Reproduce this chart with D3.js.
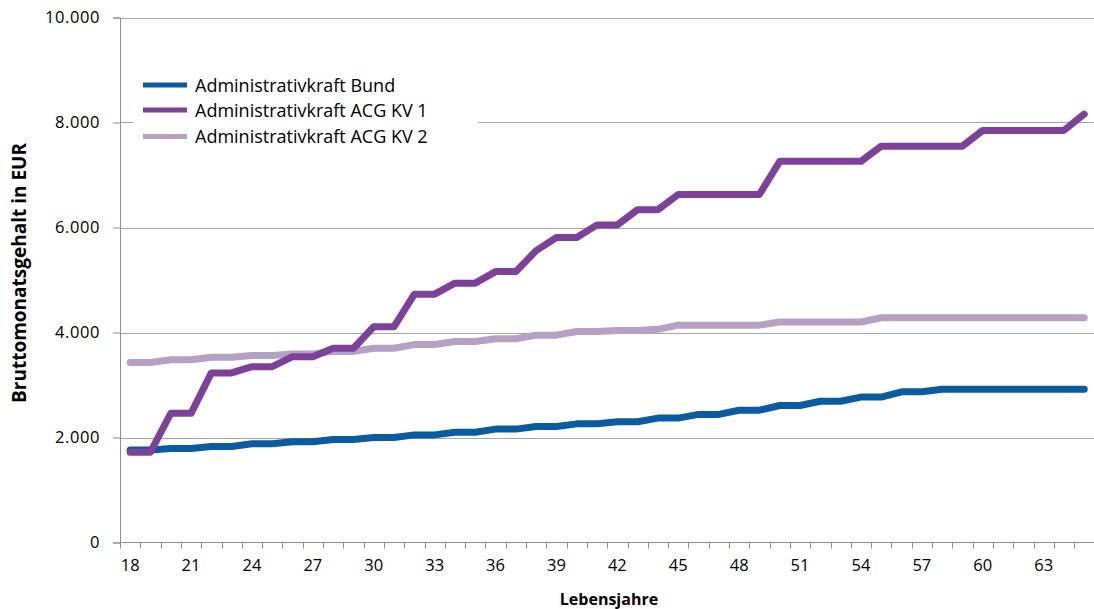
<!DOCTYPE html>
<html>
<head>
<meta charset="utf-8">
<script src="https://cdn.jsdelivr.net/npm/d3@7"></script>
<style>
  html, body { margin: 0; padding: 0; background: #ffffff; }
  svg { display: block; }
  text { font-family: "Open Sans", Lato, sans-serif; fill: #000; }
</style>
</head>
<body>
<svg id="chart" width="1094" height="609"></svg>
<script>
// Lebensalter (Kategorien der x-Achse)
const ages = d3.range(18, 66);

// Bruttomonatsgehalt in EUR je Lebensjahr
const bund = [
  1760, 1760, 1790, 1790, 1830, 1830, 1880, 1880, 1920, 1920,
  1960, 1960, 2000, 2000, 2050, 2050, 2100, 2100, 2160, 2160,
  2210, 2210, 2260, 2260, 2300, 2300, 2370, 2370, 2440, 2440,
  2520, 2520, 2610, 2610, 2690, 2690, 2770, 2770, 2870, 2870,
  2920, 2920, 2920, 2920, 2920, 2920, 2920, 2920
];
const acgKv1 = [
  1720, 1720, 2460, 2460, 3230, 3230, 3350, 3350, 3540, 3540,
  3700, 3700, 4110, 4110, 4730, 4730, 4940, 4940, 5160, 5160,
  5560, 5810, 5810, 6050, 6050, 6340, 6340, 6630, 6630, 6630,
  6630, 6630, 7260, 7260, 7260, 7260, 7260, 7550, 7550, 7550,
  7550, 7550, 7850, 7850, 7850, 7850, 7850, 8160
];
const acgKv2 = [
  3430, 3430, 3480, 3480, 3530, 3530, 3560, 3560, 3590, 3590,
  3640, 3640, 3700, 3700, 3770, 3770, 3830, 3830, 3880, 3880,
  3950, 3950, 4020, 4020, 4040, 4040, 4060, 4140, 4140, 4140,
  4140, 4140, 4200, 4200, 4200, 4200, 4200, 4280, 4280, 4280,
  4280, 4280, 4280, 4280, 4280, 4280, 4280, 4280
];

const seriesNames = [
  "Administrativkraft Bund",
  "Administrativkraft ACG KV 1",
  "Administrativkraft ACG KV 2"
];
const seriesColors = ["#0a5ca1", "#7d4199", "#b5a1c3"];

const yTicks = [0, 2000, 4000, 6000, 8000, 10000];
const xLabelAges = ages.filter(a => (a - 18) % 3 === 0);

const xTitle = "Lebensjahre";
const yTitle = "Bruttomonatsgehalt in EUR";

// ---- Layout ----
const svg = d3.select("#chart");
const plot = { left: 120, right: 1094.4, top: 17.5, bottom: 542.5 };

const x = d3.scaleBand().domain(ages).range([plot.left, plot.right]).padding(0);
const xc = a => x(a) + x.bandwidth() / 2;
const y = d3.scaleLinear().domain([0, 10000]).range([plot.bottom, plot.top]);

const de = d3.formatLocale({ decimal: ",", thousands: ".", grouping: [3], currency: ["", " €"] });
const fmt = de.format(",d");

const gridColor = "#a5a5a5";
const axisColor = "#8e8e8e";
const tickFont = 16.5;

// Horizontal gridlines
svg.append("g")
  .selectAll("line")
  .data(yTicks.filter(t => t > 0))
  .join("line")
  .attr("x1", plot.left).attr("x2", 1094)
  .attr("y1", d => Math.round(y(d)) + 0.5).attr("y2", d => Math.round(y(d)) + 0.5)
  .attr("stroke", gridColor).attr("stroke-width", 1);

// Y axis
const yAxis = svg.append("g")
  .attr("transform", `translate(${plot.left},0)`)
  .call(d3.axisLeft(y).tickValues(yTicks).tickFormat(fmt).tickSize(7).tickPadding(13));
yAxis.select(".domain").attr("stroke", axisColor);
yAxis.selectAll(".tick line").attr("stroke", axisColor);
yAxis.selectAll(".tick text")
  .attr("font-size", tickFont)
  .attr("font-family", "'Open Sans', Lato, sans-serif")
  .attr("letter-spacing", 0.6)
  .attr("fill", "#000");

// X axis line and category boundary ticks
const xg = svg.append("g");
xg.append("line")
  .attr("x1", plot.left).attr("x2", 1094)
  .attr("y1", plot.bottom).attr("y2", plot.bottom)
  .attr("stroke", axisColor);
xg.selectAll("line.bound")
  .data(ages)
  .join("line")
  .attr("class", "bound")
  .attr("x1", d => Math.round(x(d)) + 0.5).attr("x2", d => Math.round(x(d)) + 0.5)
  .attr("y1", plot.bottom).attr("y2", plot.bottom + 6)
  .attr("stroke", axisColor);
xg.selectAll("text")
  .data(xLabelAges)
  .join("text")
  .attr("x", d => xc(d))
  .attr("y", 571)
  .attr("text-anchor", "middle")
  .attr("font-size", tickFont)
  .text(d => d);

// Axis titles
svg.append("text")
  .attr("x", 609).attr("y", 605)
  .attr("text-anchor", "middle")
  .attr("font-size", 16)
  .attr("font-weight", "bold")
  .text(xTitle);
svg.append("text")
  .attr("transform", "translate(26,273) rotate(-90)")
  .attr("text-anchor", "middle")
  .attr("font-size", 19)
  .attr("font-weight", "bold")
  .text(yTitle);

// Series lines
const series = [bund, acgKv1, acgKv2];
const line = d3.line()
  .x((d, i) => xc(ages[i]))
  .y(d => y(d));

const drawOrder = [0, 2, 1];
svg.append("g")
  .selectAll("path")
  .data(drawOrder)
  .join("path")
  .attr("d", i => line(series[i]))
  .attr("fill", "none")
  .attr("stroke", i => seriesColors[i])
  .attr("stroke-width", 7)
  .attr("stroke-linejoin", "round")
  .attr("stroke-linecap", "round");

// Legend
const legend = svg.append("g");
legend.append("rect")
  .attr("x", 133).attr("y", 66).attr("width", 345).attr("height", 86)
  .attr("fill", "#ffffff");
const legendY = [85, 110, 136.5];
seriesNames.forEach((name, i) => {
  legend.append("line")
    .attr("x1", 143).attr("x2", 187)
    .attr("y1", legendY[i]).attr("y2", legendY[i])
    .attr("stroke", seriesColors[i]).attr("stroke-width", 5);
  legend.append("text")
    .attr("x", 195).attr("y", legendY[i] + 6.5)
    .attr("font-size", 18)
    .text(name);
});
</script>
</body>
</html>
